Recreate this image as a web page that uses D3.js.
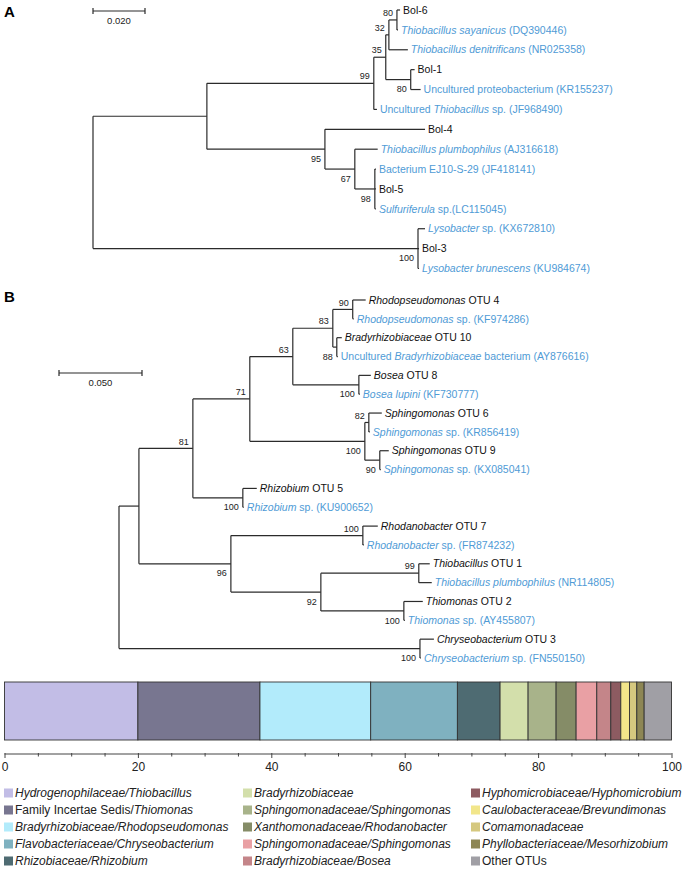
<!DOCTYPE html>
<html><head><meta charset="utf-8">
<script src="https://cdn.jsdelivr.net/npm/d3@7"></script>
<style>
body{margin:0;background:#fff}
svg{display:block}
text{font-family:"Liberation Sans",Arial,Helvetica,sans-serif}
</style>
</head><body>
<svg id="chart" width="685" height="872"></svg>
<script>
// ---------- DATA ----------
// Panel A tree: l = branch length (substitutions/site), s = bootstrap support, n = leaf label (*italic*)
const treeA = {l:0, c:[
  {l:0.0438, c:[
    {l:0.0642, s:99, c:[
      {l:0.0046, s:35, c:[
        {l:0.0012, s:32, c:[
          {l:0.0031, s:80, c:[
            {l:0.0012, n:"Bol-6"},
            {l:0.0004, n:"*Thiobacillus sayanicus* (DQ390446)"}
          ]},
          {l:0.0073, n:"*Thiobacillus denitrificans* (NR025358)"}
        ]},
        {l:0.0096, s:80, c:[
          {l:0.0015, n:"Bol-1"},
          {l:0.0038, n:"Uncultured proteobacterium (KR155237)"}
        ]}
      ]},
      {l:0.0012, n:"Uncultured *Thiobacillus* sp. (JF968490)"}
    ]},
    {l:0.0454, s:95, c:[
      {l:0.0385, n:"Bol-4"},
      {l:0.0115, s:67, c:[
        {l:0.0088, n:"*Thiobacillus plumbophilus* (AJ316618)"},
        {l:0.0077, s:98, c:[
          {l:0.0004, n:"Bacterium EJ10-S-29 (JF418141)"},
          {l:0.0004, n:"Bol-5"},
          {l:0.0004, n:"*Sulfuriferula* sp.(LC115045)"}
        ]}
      ]}
    ]}
  ]},
  {l:0.125, s:100, c:[
    {l:0.0027, n:"*Lysobacter* sp. (KX672810)"},
    {l:0.0004, n:"Bol-3"},
    {l:0.0004, n:"*Lysobacter brunescens* (KU984674)"}
  ]}
]};
const scaleBarA = 0.020;

// Panel B tree
const treeB = {l:0, c:[
  {l:0.0120, c:[
    {l:0.0325, s:81, c:[
      {l:0.0343, s:71, c:[
        {l:0.0259, s:63, c:[
          {l:0.0241, s:83, c:[
            {l:0.0120, s:90, c:[
              {l:0.0078, n:"*Rhodopseudomonas* OTU 4"},
              {l:0.0006, n:"*Rhodopseudomonas* sp. (KF974286)"}
            ]},
            {l:0.0024, s:88, c:[
              {l:0.0030, n:"*Bradyrhizobiaceae* OTU 10"},
              {l:0.0006, n:"Uncultured *Bradyrhizobiaceae* bacterium (AY876616)"}
            ]}
          ]},
          {l:0.0398, s:100, c:[
            {l:0.0072, n:"*Bosea* OTU 8"},
            {l:0.0006, n:"*Bosea lupini* (KF730777)"}
          ]}
        ]},
        {l:0.0693, s:100, c:[
          {l:0.0024, s:82, c:[
            {l:0.0078, n:"*Sphingomonas* OTU 6"},
            {l:0.0006, n:"*Sphingomonas* sp. (KR856419)"}
          ]},
          {l:0.0090, s:90, c:[
            {l:0.0054, n:"*Sphingomonas* OTU 9"},
            {l:0.0006, n:"*Sphingomonas* sp. (KX085041)"}
          ]}
        ]}
      ]},
      {l:0.0301, s:100, c:[
        {l:0.0084, n:"*Rhizobium* OTU 5"},
        {l:0.0006, n:"*Rhizobium* sp. (KU900652)"}
      ]}
    ]},
    {l:0.0554, s:96, c:[
      {l:0.0795, s:100, c:[
        {l:0.0090, n:"*Rhodanobacter* OTU 7"},
        {l:0.0006, n:"*Rhodanobacter* sp. (FR874232)"}
      ]},
      {l:0.0542, s:92, c:[
        {l:0.0590, s:99, c:[
          {l:0.0066, n:"*Thiobacillus* OTU 1"},
          {l:0.0078, n:"*Thiobacillus plumbophilus* (NR114805)"}
        ]},
        {l:0.0500, s:100, c:[
          {l:0.0114, n:"*Thiomonas* OTU 2"},
          {l:0.0006, n:"*Thiomonas* sp. (AY455807)"}
        ]}
      ]}
    ]}
  ]},
  {l:0.1813, s:100, c:[
    {l:0.0084, n:"*Chryseobacterium* OTU 3"},
    {l:0.0006, n:"*Chryseobacterium* sp. (FN550150)"}
  ]}
]};
const scaleBarB = 0.050;

// Panel C: relative abundance bar (%)
const barCategories = [
  "*Hydrogenophilaceae/Thiobacillus*",
  "Family Incertae Sedis/*Thiomonas*",
  "*Bradyrhizobiaceae/Rhodopseudomonas*",
  "*Flavobacteriaceae/Chryseobacterium*",
  "*Rhizobiaceae/Rhizobium*",
  "*Bradyrhizobiaceae*",
  "*Sphingomonadaceae/Sphingomonas*",
  "*Xanthomonadaceae/Rhodanobacter*",
  "*Sphingomonadaceae/Sphingomonas*",
  "*Bradyrhizobiaceae/Bosea*",
  "*Hyphomicrobiaceae/Hyphomicrobium*",
  "*Caulobacteraceae/Brevundimonas*",
  "*Comamonadaceae*",
  "*Phyllobacteriaceae/Mesorhizobium*",
  "Other OTUs"
];
const barValues = [20.0, 18.3, 16.6, 13.0, 6.4, 4.2, 4.2, 3.0, 3.1, 2.1, 1.5, 1.3, 1.1, 1.1, 4.1];
const barColors = ["#c2bde6","#787690","#b2ebfb","#7fb1c0","#4e6b72","#d3dfab","#a8b38a","#858c67",
                   "#e9a0a4","#c48589","#8d5b61","#f2e68a","#d5c87f","#8d8654","#a09fa5"];
const axisTicks = [0, 20, 40, 60, 80, 100];

// ---------- DRAWING ----------
const svg = d3.select("#chart");
const LINE = "#2b2b2b", BLUE = "#4f9bd6", BLACK = "#111";

function richText(sel, str) {
  const parts = str.split("*");
  parts.forEach((p, i) => {
    if (!p) return;
    sel.append("tspan").attr("font-style", i % 2 ? "italic" : "normal").text(p);
  });
}

function drawTree(g, data, x, yRange) {
  const h = d3.hierarchy(data, d => d.c);
  h.each(d => { d.dist = (d.parent ? d.parent.dist : 0) + (d.parent ? d.data.l : 0); });
  const leaves = h.leaves();
  const y = d3.scalePoint().domain(leaves.map((d, i) => i)).range(yRange);
  leaves.forEach((d, i) => d.yy = y(i));
  h.eachAfter(d => {
    if (d.children) d.yy = (d.children[0].yy + d.children[d.children.length - 1].yy) / 2;
  });
  const lines = g.append("g").attr("stroke", LINE).attr("stroke-width", 1.2).attr("fill", "none");
  h.descendants().forEach(d => {
    if (d.parent) lines.append("line")
      .attr("x1", x(d.parent.dist)).attr("x2", x(d.dist))
      .attr("y1", d.yy).attr("y2", d.yy);
    if (d.children) lines.append("line")
      .attr("x1", x(d.dist)).attr("x2", x(d.dist))
      .attr("y1", d.children[0].yy).attr("y2", d.children[d.children.length - 1].yy);
  });
  leaves.forEach(d => {
    const t = g.append("text")
      .attr("x", x(d.dist) + 3).attr("y", d.yy).attr("dy", "0.35em")
      .attr("font-size", 10.5)
      .attr("fill", d.data.n.includes("(") ? BLUE : BLACK);
    richText(t, d.data.n);
  });
  h.descendants().filter(d => d.data.s != null).forEach(d => {
    const first = d.parent && d.parent.children[0] === d;
    g.append("text")
      .attr("x", x(d.dist) - 4).attr("y", d.yy + (first ? -7 : 9.5)).attr("dy", "0.35em")
      .attr("text-anchor", "end").attr("font-size", 9).attr("fill", "#222")
      .text(d.data.s);
  });
}

function drawScaleBar(g, x, val, x0, y0) {
  const w = x(val) - x(0);
  const s = g.append("g").attr("stroke", LINE).attr("stroke-width", 1.2);
  s.append("line").attr("x1", x0).attr("x2", x0 + w).attr("y1", y0).attr("y2", y0);
  s.append("line").attr("x1", x0).attr("x2", x0).attr("y1", y0 - 3).attr("y2", y0 + 3);
  s.append("line").attr("x1", x0 + w).attr("x2", x0 + w).attr("y1", y0 - 3).attr("y2", y0 + 3);
  g.append("text").attr("x", x0 + w / 2).attr("y", y0 + 13).attr("text-anchor", "middle")
    .attr("font-size", 9.5).attr("fill", "#222").text(val.toFixed(3));
}

// Panel A
svg.append("text").attr("x", 4).attr("y", 17).attr("font-size", 15).attr("font-weight", "bold").text("A");
const xA = d3.scaleLinear().domain([0, scaleBarA]).range([93, 145]);
const gA = svg.append("g");
drawTree(gA, treeA, xA, [10, 268.5]);
drawScaleBar(gA, xA, scaleBarA, 93, 11);

// Panel B
svg.append("text").attr("x", 4).attr("y", 302).attr("font-size", 15).attr("font-weight", "bold").text("B");
const xB = d3.scaleLinear().domain([0, scaleBarB]).range([119, 202]);
const gB = svg.append("g");
drawTree(gB, treeB, xB, [300, 658]);
drawScaleBar(gB, xB, scaleBarB, 59, 373);

// Panel C: stacked bar
const xC = d3.scaleLinear().domain([0, 100]).range([4.5, 671.5]);
const cum = d3.cumsum(barValues);
const segs = barValues.map((v, i) => ({v, i, start: cum[i] - v, end: cum[i]}));
const gC = svg.append("g");
gC.selectAll("rect.seg").data(segs).join("rect").attr("class", "seg")
  .attr("x", d => xC(d.start)).attr("width", d => xC(d.end) - xC(d.start))
  .attr("y", 682).attr("height", 58)
  .attr("fill", d => barColors[d.i]).attr("stroke", "#333").attr("stroke-width", 0.9);

const axis = d3.axisBottom(xC).tickValues(d3.range(0, 101, 5)).tickSize(4)
  .tickFormat(d => axisTicks.includes(d) ? d : "");
const ga = gC.append("g").attr("transform", "translate(0,754)").call(axis);
ga.select(".domain").attr("stroke", "#444").attr("d", `M${xC(0)},0H${xC(100)}`);
ga.selectAll(".tick line").attr("stroke", "#444").attr("y1", -1)
  .attr("y2", d => axisTicks.includes(d) ? 4 : 2.5);
ga.selectAll(".tick text").attr("font-size", 12).attr("fill", "#222").attr("y", 8)
  .attr("font-family", "'Liberation Sans',Arial,sans-serif");

// Legend
const legCols = [4, 243, 471], legRows = [793, 810, 827, 844, 861];
const gL = svg.append("g");
barCategories.forEach((c, i) => {
  const cx = legCols[Math.floor(i / 5)], cy = legRows[i % 5];
  gL.append("rect").attr("x", cx).attr("y", cy - 4.5).attr("width", 9).attr("height", 9)
    .attr("fill", barColors[i]);
  const t = gL.append("text").attr("x", cx + 11).attr("y", cy).attr("dy", "0.35em")
    .attr("font-size", 12).attr("fill", "#222");
  richText(t, c);
});
</script>
</body></html>
